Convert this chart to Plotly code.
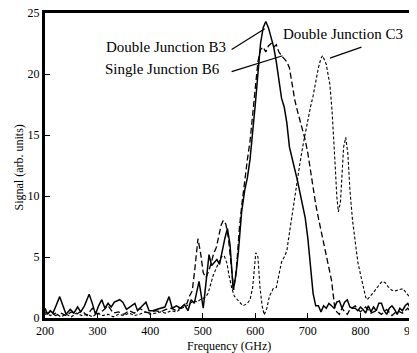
import plotly.graph_objects as go

# Double Junction B3 (solid)
b3_freq = [200, 205, 210, 215, 220, 228, 235, 240, 248, 255, 262, 268, 275, 284, 290, 296, 302, 308, 314,
           320, 326, 332, 342, 348, 355, 362, 371, 376, 383, 392, 398, 405, 412, 420, 428, 436, 442, 450,
           458, 465, 472, 478, 484, 493, 497, 501, 506, 512, 517, 522, 527, 532, 537, 542, 547, 552, 558,
           563, 568, 574, 580, 585, 590, 595, 600, 605, 610, 615, 620, 625, 630, 635, 640, 645, 650, 655,
           660, 665, 670, 675, 680, 685, 690, 695, 700, 705, 710, 715, 720, 725, 730, 735, 740, 745, 750,
           755, 760, 765, 770, 775, 780, 785, 790, 795, 800, 805, 810, 815, 820, 825, 830, 835, 840, 845,
           850, 855, 860, 865, 870, 875, 880, 885, 890, 895, 900]
b3_vals = [0.8, 0.3, 0.6, 0.4, 0.9, 1.75, 0.9, 0.3, 0.7, 0.4, 0.9, 0.5, 1.0, 1.95, 1.2, 0.3, 1.0, 1.5, 0.8,
           1.2, 0.9, 1.3, 1.5, 1.3, 0.7, 0.9, 1.2, 0.6, 0.9, 1.3, 0.6, 0.6, 0.7, 0.8, 0.9, 1.75, 0.8, 1.0,
           0.8, 1.1, 0.6, 1.5, 1.2, 3.0, 1.8, 0.8, 2.8, 5.2, 4.3, 4.6, 4.8, 4.4, 5.5, 6.5, 7.35, 6.0, 2.3,
           3.5, 5.5, 8.7, 10.5, 11.5, 13.0, 15.0, 17.5, 20.0, 22.5, 23.8, 24.3, 23.8, 23.0, 22.2, 21.0, 19.5, 18.0, 17.3,
           16.0, 14.0, 13.0, 12.2, 11.3, 10.3, 9.3, 8.2, 6.5, 4.2, 2.0, 1.0, 1.0, 0.5, 1.0, 0.8, 1.2, 1.0, 0.8,
           1.3, 1.4, 0.8, 1.3, 1.5, 0.9, 0.8, 0.8, 0.6, 0.9, 0.7, 0.4, 1.0, 0.5, 0.9, 0.6, 1.2, 1.2, 0.6,
           0.3, 0.8, 1.0, 0.7, 0.3, 0.8, 0.6, 1.0, 1.2, 0.8, 0.5]

# Single Junction B6 (long dash)
b6_freq = [200, 210, 220, 230, 240, 250, 260, 270, 280, 290, 300, 310, 320, 330, 340, 350, 360, 370, 380,
           390, 400, 410, 420, 430, 440, 450, 460, 470, 475, 480, 485, 491, 496, 501, 506, 511, 516, 521,
           526, 531, 535, 539, 544, 549, 554, 559, 564, 570, 575, 580, 585, 590, 595, 600, 605, 610, 615,
           620, 625, 630, 635, 640, 645, 650, 655, 660, 665, 670, 675, 680, 685, 690, 695, 700, 705, 710,
           715, 720, 725, 730, 735, 740, 745, 751, 755, 760, 765, 770, 775, 780, 790, 800, 810, 820, 830,
           840, 850, 860, 870, 880, 890, 900]
b6_vals = [0.3, 0.5, 0.2, 0.4, 0.2, 0.5, 0.3, 0.6, 0.2, 0.8, 0.3, 0.6, 1.0, 0.4, 0.5, 0.3, 0.6, 0.4, 0.8,
           0.5, 0.4, 0.6, 0.5, 0.7, 0.8, 0.6, 0.9, 1.2, 1.8, 2.2, 4.0, 6.5, 5.3, 3.7, 3.3, 3.8, 4.5, 5.3,
           5.8, 6.8, 7.6, 8.0, 7.7, 6.5, 4.5, 2.3, 4.0, 7.5, 9.5, 11.5, 13.0, 14.5, 16.5, 19.0, 21.0, 22.0, 22.2,
           21.8, 22.3, 22.5, 22.2, 22.4, 21.8, 21.5, 21.2, 21.0, 20.5, 19.2, 17.9, 17.0, 16.2, 15.5, 14.6, 13.5, 12.0, 10.5,
           9.3, 8.2, 7.2, 6.2, 5.2, 4.2, 3.1, 0.9, 0.5, 0.3, 0.8, 0.5, 0.3, 0.7, 1.0, 0.5, 0.9, 0.4, 0.6,
           0.3, 0.7, 0.2, 0.6, 0.4, 0.8, 0.3]

# Double Junction C3 (short dash)
c3_freq = [200, 210, 220, 230, 240, 250, 260, 270, 280, 290, 300, 310, 320, 330, 340, 350, 360, 370, 380,
           390, 400, 410, 420, 430, 440, 450, 460, 470, 475, 480, 485, 490, 495, 500, 505, 510, 515, 520,
           525, 530, 535, 541, 546, 550, 555, 560, 565, 570, 577, 585, 590, 595, 601, 605, 609, 613, 617,
           622, 627, 634, 640, 645, 650, 655, 660, 665, 670, 675, 680, 685, 690, 695, 700, 705, 710, 715,
           720, 725, 728, 735, 742, 746, 749, 752, 755, 758, 762, 765, 768, 772, 776, 780, 785, 790, 795,
           800, 805, 810, 813, 820, 825, 830, 835, 841, 847, 852, 859, 865, 872, 881, 888, 894, 900]
c3_vals = [0.5, 0.2, 0.4, 0.1, 0.3, 0.1, 0.4, 0.2, 0.3, 0.1, 0.4, 0.2, 0.3, 0.1, 0.3, 0.2, 0.4, 0.2, 0.3,
           0.5, 0.3, 0.4, 0.5, 0.4, 0.6, 0.5, 0.8, 1.0, 1.2, 1.3, 1.4, 1.3, 1.5, 1.6, 1.7, 2.0, 2.8, 3.5,
           4.0, 4.5, 5.0, 5.1, 4.5, 3.5, 2.5, 1.8, 1.5, 1.3, 1.0, 1.2, 1.5, 2.5, 5.35, 5.0, 2.5, 1.0, 0.25,
           0.8, 1.8, 2.4, 2.5, 3.5, 4.6, 5.0, 5.5, 7.0, 8.5, 10.0, 11.2, 12.7, 14.0, 15.2, 16.2, 17.3, 18.2, 19.5,
           20.5, 21.3, 21.5, 20.8, 19.1, 17.0, 15.0, 12.5, 10.0, 8.7, 9.5, 12.0, 14.0, 14.8, 13.5, 10.5, 8.0, 6.3, 4.6,
           3.6, 2.6, 1.7, 1.5, 1.8, 2.1, 2.4, 2.7, 3.0, 2.9, 2.6, 2.3, 2.2, 2.3, 2.4, 2.0, 1.7, 1.8]

x_ticks = [200, 300, 400, 500, 600, 700, 800, 900]
y_ticks = [0, 5, 10, 15, 20, 25]

FONT = "Liberation Serif"

fig = go.Figure()
fig.add_trace(go.Scatter(x=b3_freq, y=b3_vals, mode="lines", name="Double Junction B3",
                         line=dict(color="black", width=1.5, dash="solid")))
fig.add_trace(go.Scatter(x=b6_freq, y=b6_vals, mode="lines", name="Single Junction B6",
                         line=dict(color="black", width=1.3, dash="6px,3px")))
fig.add_trace(go.Scatter(x=c3_freq, y=c3_vals, mode="lines", name="Double Junction C3",
                         line=dict(color="black", width=1.1, dash="3px,2px")))

# labels with leader lines
labels = [
    ("Double Junction B3", 430, 22.2, [(555, 22.0), (618, 23.7)]),
    ("Single Junction B6", 424, 20.4, [(555, 20.2), (652, 21.5)]),
    ("Double Junction C3", 766, 23.3, [(802, 22.2), (742, 21.3)]),
]
for text, tx, ty, pts in labels:
    fig.add_annotation(x=tx, y=ty, text=text, showarrow=False, xref="x", yref="y",
                       font=dict(family=FONT, size=15, color="black"))
    fig.add_shape(type="line", xref="x", yref="y", x0=pts[0][0], y0=pts[0][1],
                  x1=pts[1][0], y1=pts[1][1], line=dict(color="black", width=1.2))

# axis titles
fig.add_annotation(x=0.5, y=0, xref="paper", yref="paper", xanchor="center", yanchor="middle",
                   yshift=-28, text="Frequency (GHz)", showarrow=False,
                   font=dict(family=FONT, size=12, color="black"))
fig.add_annotation(x=0, y=0.5, xref="paper", yref="paper", xanchor="center", yanchor="middle",
                   xshift=-27, yshift=-2, textangle=-90, text="Signal (arb. units)", showarrow=False,
                   font=dict(family=FONT, size=12, color="black"))

axis_common = dict(showgrid=False, zeroline=False, showline=True, linecolor="black", linewidth=3,
                   mirror=True, ticks="inside", ticklen=5, tickwidth=1.2, tickcolor="black",
                   automargin=False, ticklabeloverflow="allow",
                   tickfont=dict(family=FONT, size=12, color="black"))

# the page places the figure 8px in from its top-left corner; margins compensate so the
# plot frame lands at x 45..413 and y 13..318 of the window
fig.update_layout(
    width=417, height=353,
    margin=dict(l=37, r=12, t=5, b=43),
    paper_bgcolor="white", plot_bgcolor="white",
    showlegend=False,
    font=dict(family=FONT, color="black"),
    xaxis=dict(range=[200, 900], tickvals=x_ticks, ticktext=[str(v) for v in x_ticks], **axis_common),
    yaxis=dict(range=[0, 25], tickvals=y_ticks, ticktext=[str(v) for v in y_ticks], **axis_common),
)

fig.write_html("out.html")
